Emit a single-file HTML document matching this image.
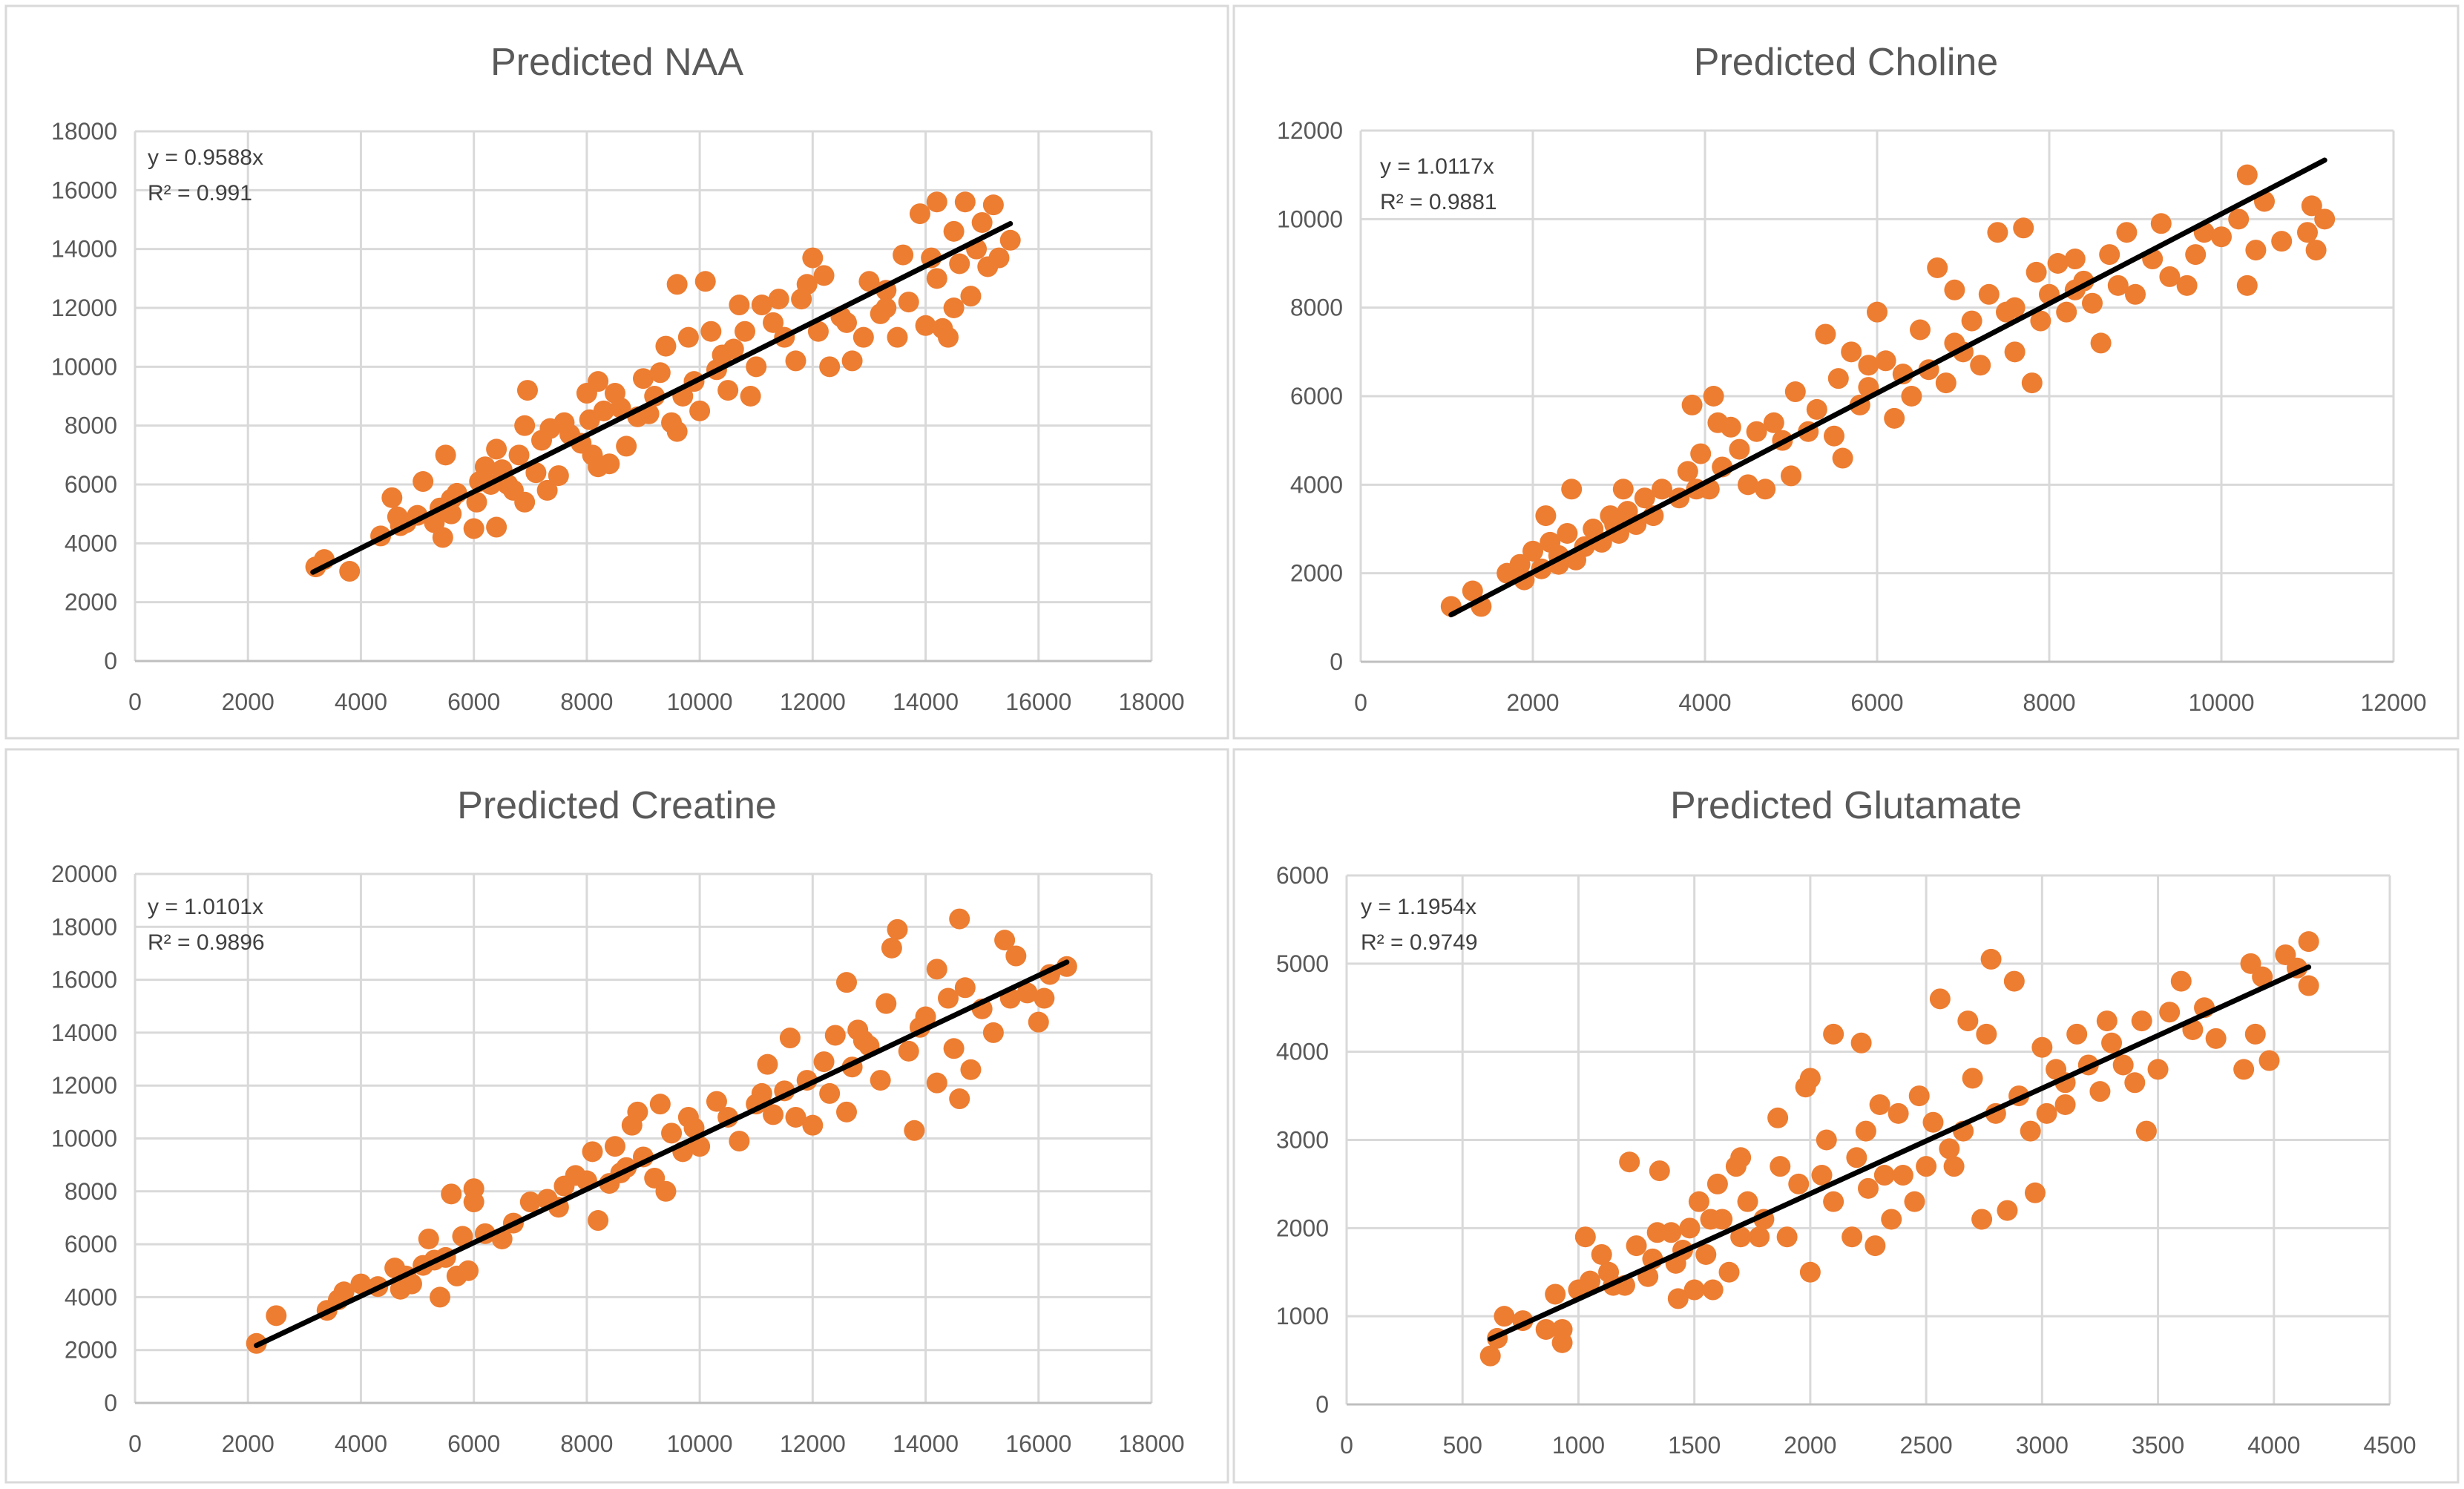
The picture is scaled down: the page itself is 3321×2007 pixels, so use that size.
<!DOCTYPE html>
<html><head><meta charset="utf-8"><style>
html,body{margin:0;padding:0;background:#fff;}
svg{display:block;font-family:"Liberation Sans",sans-serif;}
</style></head><body>
<svg id="chart" width="3321" height="2007" viewBox="0 0 3321 2007"></svg>
<script>
const naaX=[3200,3350,3800,4350,4550,4650,4700,5100,5000,5300,5450,5500,5600,5700,5600,6000,6050,6100,6200,6400,6400,6500,6600,6700,6800,6900,6900,6950,7100,7200,7300,7350,7500,7600,7700,8000,8050,8100,8200,8200,8300,8400,8500,8600,8700,8900,9000,9100,9300,9400,9500,9600,9600,9700,9800,9900,10000,10100,10200,10300,10500,10600,10700,10800,10900,11000,11100,11300,11400,11700,11800,11900,12000,12100,12200,12300,12500,12700,12900,13000,13200,13300,13500,13600,13700,13900,14000,14200,14200,14300,14400,14500,14500,14600,14700,14800,14900,15000,15100,15200,15300,15500,14100,13300,12600,11500,10400,9200,7900,6300,5400,4800];
const naaY=[3200,3450,3050,4250,5550,4900,4600,6100,4950,4700,4200,7000,5000,5700,5500,4500,5400,6100,6600,4550,7200,6500,6000,5800,7000,5400,8000,9200,6400,7500,5800,7900,6300,8100,7700,9100,8200,7000,6600,9500,8500,6700,9100,8600,7300,8300,9600,8400,9800,10700,8100,12800,7800,9000,11000,9500,8500,12900,11200,9900,9200,10600,12100,11200,9000,10000,12100,11500,12300,10200,12300,12800,13700,11200,13100,10000,11700,10200,11000,12900,11800,12600,11000,13800,12200,15200,11400,15600,13000,11300,11000,12000,14600,13500,15600,12400,14000,14900,13400,15500,13700,14300,13700,12000,11500,11000,10400,9000,7400,6000,5200,4700];
const chX=[1050,1300,1400,1700,1850,1900,2000,2100,2150,2200,2300,2400,2450,2500,2600,2700,2800,2900,3000,3050,3100,3200,3300,3400,3500,3700,3800,3850,3950,4050,4100,4150,4200,4300,4400,4500,4600,4700,4800,5000,5050,5200,5300,5400,5500,5550,5600,5700,5800,5900,6000,6100,6200,6300,6400,6500,6600,6700,6800,6900,7000,7100,7200,7300,7400,7500,7600,7700,7800,7850,7900,8000,8100,8200,8300,8400,8500,8600,8700,8800,8900,9000,9200,9300,9400,9600,9700,9800,10000,10200,10300,10300,10400,10500,10700,11000,11050,11100,11200,8300,7600,6900,5900,4900,3900,2950,2300];
const chY=[1250,1600,1250,2000,2200,1850,2500,2100,3300,2700,2200,2900,3900,2300,2600,3000,2700,3300,2900,3900,3400,3100,3700,3300,3900,3700,4300,5800,4700,3900,6000,5400,4400,5300,4800,4000,5200,3900,5400,4200,6100,5200,5700,7400,5100,6400,4600,7000,5800,6200,7900,6800,5500,6500,6000,7500,6600,8900,6300,8400,7000,7700,6700,8300,9700,7900,7000,9800,6300,8800,7700,8300,9000,7900,9100,8600,8100,7200,9200,8500,9700,8300,9100,9900,8700,8500,9200,9700,9600,10000,11000,8500,9300,10400,9500,9700,10300,9300,10000,8400,8000,7200,6700,5000,3900,3100,2400];
const crX=[2150,2500,3400,3600,3700,4000,4300,4600,4700,4900,5100,5200,5400,5500,5600,5700,5800,5900,6000,6000,6200,6500,7000,7300,7600,7800,8000,8100,8200,8400,8500,8700,8800,8900,9000,9200,9300,9400,9500,9700,9800,10000,10300,10500,10700,11000,11200,11300,11500,11600,11700,11900,12000,12200,12300,12400,12600,12600,12700,12800,13000,13200,13300,13400,13500,13700,13800,14000,14200,14200,14400,14500,14600,14600,14700,14800,15000,15200,15400,15500,15600,15800,16000,16200,16500,16100,13900,12900,11100,9900,8600,7500,6700,5300,4800];
const crY=[2250,3300,3500,3900,4200,4500,4400,5100,4300,4500,5200,6200,4000,5500,7900,4800,6300,5000,8100,7600,6400,6200,7600,7700,8200,8600,8400,9500,6900,8300,9700,8900,10500,11000,9300,8500,11300,8000,10200,9500,10800,9700,11400,10800,9900,11300,12800,10900,11800,13800,10800,12200,10500,12900,11700,13900,11000,15900,12700,14100,13500,12200,15100,17200,17900,13300,10300,14600,12100,16400,15300,13400,11500,18300,15700,12600,14900,14000,17500,15300,16900,15500,14400,16200,16500,15300,14200,13700,11700,10400,8700,7400,6800,5400,4800];
const glX=[620,650,680,760,860,900,930,930,1000,1030,1050,1100,1130,1200,1220,1250,1300,1320,1340,1350,1400,1420,1430,1450,1480,1500,1520,1550,1570,1580,1600,1620,1650,1680,1700,1730,1780,1800,1860,1870,1900,1950,1980,2000,2000,2050,2070,2100,2100,2180,2200,2220,2240,2280,2300,2320,2350,2380,2400,2450,2470,2500,2530,2560,2600,2660,2680,2700,2740,2760,2780,2800,2850,2880,2900,2950,2970,3000,3020,3060,3100,3150,3200,3250,3280,3300,3350,3400,3430,3450,3500,3550,3600,3650,3700,3750,3870,3900,3920,3950,3980,4050,4100,4150,4150,2620,2250,1700,1150,3100];
const glY=[550,750,1000,950,850,1250,700,850,1300,1900,1400,1700,1500,1350,2750,1800,1450,1650,1950,2650,1950,1600,1200,1750,2000,1300,2300,1700,2100,1300,2500,2100,1500,2700,2800,2300,1900,2100,3250,2700,1900,2500,3600,3700,1500,2600,3000,4200,2300,1900,2800,4100,3100,1800,3400,2600,2100,3300,2600,2300,3500,2700,3200,4600,2900,3100,4350,3700,2100,4200,5050,3300,2200,4800,3500,3100,2400,4050,3300,3800,3400,4200,3850,3550,4350,4100,3850,3650,4350,3100,3800,4450,4800,4250,4500,4150,3800,5000,4200,4850,3900,5100,4950,5250,4750,2700,2450,1900,1350,3650];
const naaXTicks=[0,2000,4000,6000,8000,10000,12000,14000,16000,18000];
const naaYTicks=[0,2000,4000,6000,8000,10000,12000,14000,16000,18000];
const chTicks=[0,2000,4000,6000,8000,10000,12000];
const crXTicks=[0,2000,4000,6000,8000,10000,12000,14000,16000,18000];
const crYTicks=[0,2000,4000,6000,8000,10000,12000,14000,16000,18000,20000];
const glXTicks=[0,500,1000,1500,2000,2500,3000,3500,4000,4500];
const glYTicks=[0,1000,2000,3000,4000,5000,6000];
const slopes=[0.9588,1.0117,1.0101,1.1954];
const trendRanges=[[3150,15500],[1050,11200],[2150,16500],[620,4150]];

const NS='http://www.w3.org/2000/svg';
const svg=document.getElementById('chart');
function mk(tag,attrs,parent){const e=document.createElementNS(NS,tag);for(const k in attrs)e.setAttribute(k,attrs[k]);(parent||svg).appendChild(e);return e;}

const panels=[
 {key:'naa',title:'Predicted NAA',frame:[8,8,1647,987],L:182,R:1552,T:177,B:891,xt:naaXTicks,yt:naaYTicks,xs:naaX,ys:naaY,eq:['y = 0.9588x','  R² = 0.991'],eqx:199,eqy:222},
 {key:'choline',title:'Predicted Choline',frame:[1663,8,1650,987],L:1834,R:3226,T:176,B:892,xt:chTicks,yt:chTicks,xs:chX,ys:chY,eq:['y = 1.0117x','R² = 0.9881'],eqx:1860,eqy:234},
 {key:'creatine',title:'Predicted Creatine',frame:[8,1010,1647,988],L:182,R:1552,T:1178,B:1891,xt:crXTicks,yt:crYTicks,xs:crX,ys:crY,eq:['y = 1.0101x','R² = 0.9896'],eqx:199,eqy:1232},
 {key:'glutamate',title:'Predicted Glutamate',frame:[1663,1010,1650,988],L:1815,R:3221,T:1180,B:1893,xt:glXTicks,yt:glYTicks,xs:glX,ys:glY,eq:['y = 1.1954x','R² = 0.9749'],eqx:1834,eqy:1232}
];

panels.forEach((p,i)=>{
  const g=mk('g',{});
  
  
  const f=p.frame;
  const fr=mk('rect',{x:f[0],y:f[1],width:f[2],height:f[3],fill:'#fff',stroke:'#d9d9d9','stroke-width':3},g);
  
  
  const xmax=p.xt[p.xt.length-1], ymax=p.yt[p.yt.length-1];
  const sx=v=>p.L+(v/xmax)*(p.R-p.L);
  const sy=v=>p.B-(v/ymax)*(p.B-p.T);
  const t=mk('text',{x:(f[0]+f[0]+f[2])/2,y:f[1]+93,'text-anchor':'middle','font-size':52,fill:'#595959'},g);
  t.textContent=p.title;
  
  
  p.xt.forEach(v=>{
    const l=mk('line',{x1:sx(v),x2:sx(v),y1:p.T,y2:p.B,stroke:'#d9d9d9','stroke-width':3},g);
    
    
    const tx=mk('text',{x:sx(v),y:p.B+66,'text-anchor':'middle','font-size':32,fill:'#595959'},g);
    tx.textContent=v;
    
    
  });
  p.yt.forEach(v=>{
    const l=mk('line',{x1:p.L,x2:p.R,y1:sy(v),y2:sy(v),stroke:v===0?'#bfbfbf':'#d9d9d9','stroke-width':3},g);
    
    
    const ty=mk('text',{x:p.L-24,y:sy(v)+11,'text-anchor':'end','font-size':32,fill:'#595959'},g);
    ty.textContent=v;
    
    
  });
  p.xs.forEach((x,j)=>{
    const c=mk('circle',{cx:sx(x),cy:sy(p.ys[j]),r:14,fill:'#ED7D31'},g);
    
    
  });
  const tr=trendRanges[i];
  const ln=mk('line',{x1:sx(tr[0]),y1:sy(tr[0]*slopes[i]),x2:sx(tr[1]),y2:sy(tr[1]*slopes[i]),stroke:'#000','stroke-width':7,'stroke-linecap':'round'},g);
  
  
  p.eq.forEach((s,k)=>{
    const e=mk('text',{x:p.eqx,y:p.eqy+k*48,'font-size':30,fill:'#404040','xml:space':'preserve'},g);
    e.textContent=s;
    
    
  });
});
</script>
</body></html>
